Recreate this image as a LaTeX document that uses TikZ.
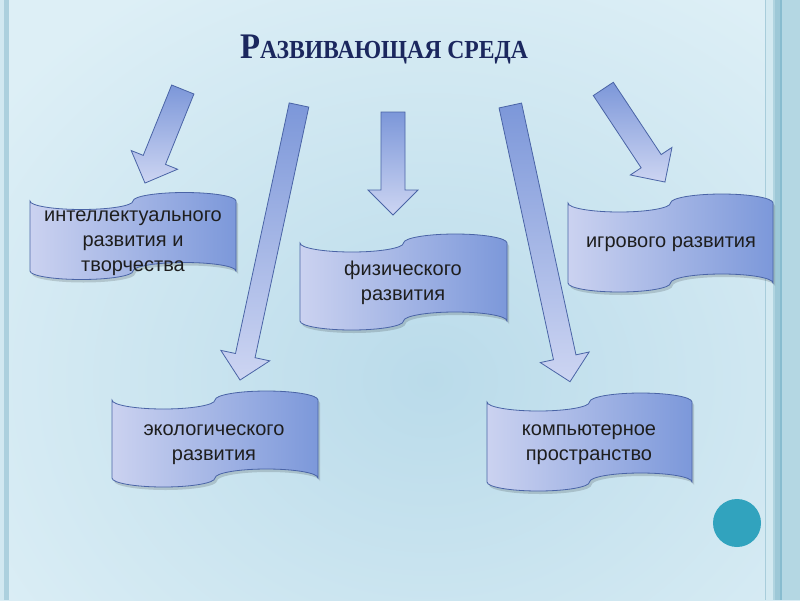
\documentclass[tikz,border=0pt]{standalone}
\usepackage{fontspec}
\usepackage{graphicx}
\setmainfont{Liberation Sans}
\newfontfamily\titlefont{Liberation Serif}
\definecolor{bgin}{HTML}{BADBEA}
\definecolor{bgout}{HTML}{DDEFF6}
\definecolor{boxlight}{HTML}{CBD2F0}
\definecolor{boxmid}{HTML}{B4C0EA}
\definecolor{boxdark}{HTML}{7C98DA}
\definecolor{boxline}{HTML}{4A64A6}
\definecolor{arrowdark}{HTML}{7C97D9}
\definecolor{arrowlight}{HTML}{CDD5F2}
\definecolor{titlecol}{HTML}{1B275E}
\definecolor{textcol}{HTML}{1E1E1E}
\definecolor{circcol}{HTML}{31A3BE}
\tikzset{
  boxbody/.style={draw=boxline, line width=0.8pt, left color=boxlight, middle color=boxmid, right color=boxdark},
  boxshadow/.style={fill=black, opacity=0.15},
  arrowbody/.style={draw=boxline, line width=0.8pt, top color=arrowdark, bottom color=arrowlight, line join=miter},
  boxtext/.style={align=center, font=\fontsize{20}{25}\selectfont, text=textcol, inner sep=0pt},
}
% punched-tape wave: L, R, y of edge ends (top), height, amplitude
\newcommand\wavepath[5]{(#1,#3) arc[start angle=180, end angle=0, x radius={(#2-#1)/4}, y radius=#5] arc[start angle=180, end angle=360, x radius={(#2-#1)/4}, y radius=#5] -- (#2,{#3+#4}) arc[start angle=0, end angle=-180, x radius={(#2-#1)/4}, y radius=#5] arc[start angle=0, end angle=180, x radius={(#2-#1)/4}, y radius=#5] -- cycle}
\newcommand\wavebox[5]{%
  \fill[boxshadow] [shift={(2,3)}] \wavepath{#1}{#2}{#3}{#4}{#5};
  \draw[boxbody] \wavepath{#1}{#2}{#3}{#4}{#5};}
% tail coordinate, angle, length, shaft width
\newcommand\blockarrow[4]{%
  \begin{scope}[shift={(#1)},rotate=#2]
    \draw[arrowbody] (0,{-#4/2}) -- ({#3-25},{-#4/2}) -- ({#3-25},-25) -- (#3,0) -- ({#3-25},25) -- ({#3-25},{#4/2}) -- (0,{#4/2}) -- cycle;
  \end{scope}}
\begin{document}
\begin{tikzpicture}[x=1pt,y=-1pt]
\useasboundingbox (0,0) rectangle (800,600);
% background
\fill[bgout] (0,0) rectangle (800,600);
\begin{scope}
  \clip (0,0) rectangle (800,600);
  \shade[inner color=bgin, outer color=bgout] (-110,-80) rectangle (970,840);
\end{scope}
% border stripes
\fill[fill={rgb,255:red,209;green,232;blue,241}] (0,0) rectangle (4,600);
\fill[fill={rgb,255:red,172;green,208;blue,222}] (4,0) rectangle (9,600);
\fill[fill={rgb,255:red,168;green,205;blue,219}] (764.5,0) rectangle (766,600);
\fill[fill={rgb,255:red,210;green,233;blue,241}] (766,0) rectangle (773,600);
\fill[fill={rgb,255:red,176;green,212;blue,224}] (773,0) rectangle (775,600);
\fill[fill={rgb,255:red,157;green,200;blue,215}] (775,0) rectangle (780,600);
\fill[fill={rgb,255:red,136;green,188;blue,207}] (780,0) rectangle (782,600);
\fill[fill={rgb,255:red,180;green,215;blue,227}] (782,0) rectangle (800,600);
% title
\node[anchor=base, text=titlecol, inner sep=0pt] (title) at (384,58)
  {\titlefont\bfseries\scalebox{0.91}[1]{\fontsize{36}{36}\selectfont Р\fontsize{26}{26}\selectfont АЗВИВАЮЩАЯ СРЕДА}};
% arrow tails
\coordinate (t1) at (182.8,89.5);
\coordinate (t2) at (299,105);
\coordinate (t3) at (393,112);
\coordinate (t4) at (510.3,105.5);
\coordinate (t5) at (603.3,88.9);
\blockarrow{t1}{-112.0}{100.9}{24}
\blockarrow{t2}{-102.1}{281.3}{20}
\blockarrow{t3}{-90}{103}{24}
\blockarrow{t4}{-77.8}{282.6}{23}
\blockarrow{t5}{-56.5}{111.7}{24}
% wave boxes
\wavebox{30}{236}{201}{70}{8.5}
\wavebox{300}{507}{243}{78}{9}
\wavebox{568}{773}{203}{80}{9}
\wavebox{112}{318}{400}{78}{9}
\wavebox{487}{692}{402}{80}{9}
% texts
\node[boxtext] (b1) at (133,243) {интеллектуального\\развития и\\творчества};
\node[boxtext] (b2) at (403,283) {физического\\развития};
\node[boxtext] (b3) at (671,244) {игрового развития};
\node[boxtext] (b4) at (214,445) {экологического\\развития};
\node[boxtext] (b5) at (589,445) {компьютерное\\пространство};
% circle
\fill[circcol] (737,523) circle (24pt);
\end{tikzpicture}
\end{document}
